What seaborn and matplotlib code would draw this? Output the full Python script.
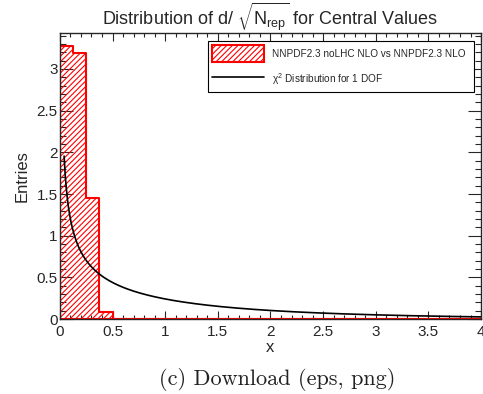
import numpy as np
import pandas as pd
import matplotlib
matplotlib.use("Agg")
import matplotlib.pyplot as plt
from matplotlib.ticker import MultipleLocator
import seaborn as sns

# histogram of d/sqrt(N_rep), normalised (bin width 0.125, 0..4)
bin_edges = [i * 0.125 for i in range(33)]
bin_heights = [3.28, 3.19, 1.45, 0.09, 0, 0, 0, 0,
               0, 0, 0, 0, 0, 0, 0, 0,
               0, 0, 0, 0, 0, 0, 0, 0,
               0, 0, 0, 0, 0, 0, 0, 0]
hist_label = "NNPDF2.3 noLHC NLO vs NNPDF2.3 NLO"
curve_label = r"$\chi^2$ Distribution for 1 DOF"
dof = 1

sns.set_style("ticks")
plt.rcParams["font.family"] = ["Liberation Sans", "DejaVu Sans"]
plt.rcParams["mathtext.fontset"] = "custom"
plt.rcParams["mathtext.rm"] = "Liberation Sans"
plt.rcParams["mathtext.it"] = "Liberation Sans"
plt.rcParams["hatch.color"] = "red"
plt.rcParams["hatch.linewidth"] = 0.8

fig = plt.figure(figsize=(4.83, 3.94), dpi=100)
ax = fig.add_axes([0.124, 0.190, 0.872, 0.726])

df = pd.DataFrame({"center": [e + 0.0625 for e in bin_edges[:-1]],
                   "height": bin_heights})
sns.histplot(data=df, x="center", weights="height", bins=bin_edges, element="step",
             fill=True, ax=ax, color="red", label=hist_label)
poly = ax.collections[0]
poly.set_facecolor("none")
poly.set_edgecolor("red")
poly.set_hatch("//////")
poly.set_linewidth(1.5)
for ln in ax.lines:
    ln.set_color("red")
    ln.set_linewidth(1.5)

# chi2 pdf for 1 degree of freedom
xs = np.linspace(0.04, 4.0, 400)
ys = xs ** (dof / 2 - 1) * np.exp(-xs / 2) / (2 ** (dof / 2) * 1.7724538509)
sns.lineplot(x=xs, y=ys, ax=ax, color="black", linewidth=1.2, label=curve_label)

ax.set_xlim(0, 4)
ax.set_ylim(0, 3.43)
ax.set_xlabel("x", fontsize=12, labelpad=1)
ax.set_ylabel("Entries", fontsize=12, labelpad=5)
ax.set_title(r"Distribution of d/ $\sqrt{\mathrm{N}_{\mathrm{rep}}}$ for Central Values",
             fontsize=13, pad=4)

ax.xaxis.set_minor_locator(MultipleLocator(0.1))
ax.yaxis.set_minor_locator(MultipleLocator(0.1))
ax.set_xticks(np.arange(0, 4.01, 0.5))
ax.set_xticklabels(["0", "0.5", "1", "1.5", "2", "2.5", "3", "3.5", "4"])
ax.set_yticks(np.arange(0, 3.01, 0.5))
ax.set_yticklabels(["0", "0.5", "1", "1.5", "2", "2.5", "3"])
ax.tick_params(axis="x", which="major", direction="in", length=6, width=0.8,
               top=True, labelsize=11, pad=4)
ax.tick_params(axis="x", which="minor", direction="in", length=3, width=0.8, top=True)
ax.tick_params(axis="y", which="major", direction="in", length=9.5, width=0.8,
               right=True, labelsize=11, pad=1.5)
ax.tick_params(axis="y", which="minor", direction="in", length=4.5, width=0.8, right=True)
for s in ax.spines.values():
    s.set_visible(True)
    s.set_linewidth(1)

leg = ax.legend(loc="upper left", bbox_to_anchor=(0.352, 0.973, 0.632, 0.0),
                mode="expand", fontsize=7.2, frameon=True, fancybox=False,
                edgecolor="black", framealpha=1, handlelength=5.2, handleheight=2.3,
                labelspacing=0.85, borderpad=0.4, handletextpad=0.8, borderaxespad=0)
leg.get_frame().set_linewidth(0.8)

fig.text(0.574, 0.038, "(c) Download (eps, png)", fontsize=16, family="cmr10",
         ha="center", va="center", color="#222222")

fig.savefig("out.png", dpi=100)
